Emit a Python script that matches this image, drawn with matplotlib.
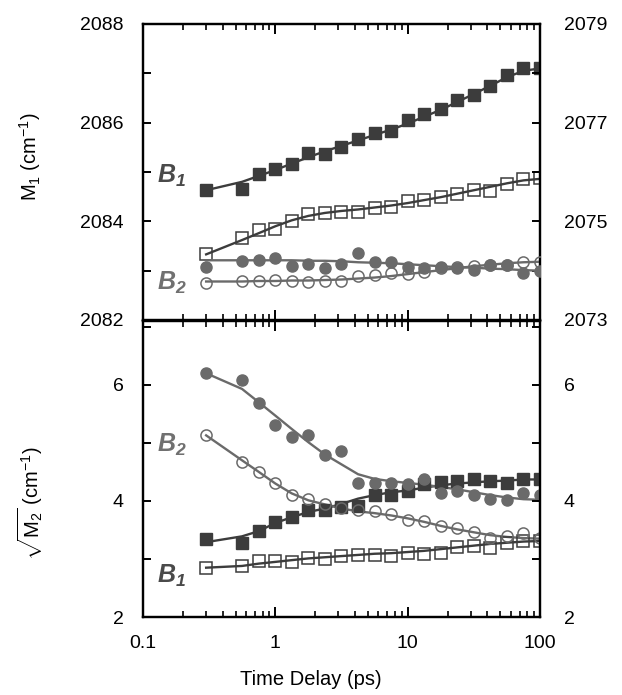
import numpy as np
import matplotlib
matplotlib.use('Agg')
import matplotlib.pyplot as plt
from matplotlib import rcParams
from matplotlib.ticker import LogLocator, NullFormatter, FixedLocator

rcParams['font.family'] = 'sans-serif'
rcParams['font.sans-serif'] = ['Liberation Sans', 'DejaVu Sans']
rcParams['font.size'] = 13
rcParams['mathtext.fontset'] = 'custom'
rcParams['mathtext.rm'] = 'Liberation Sans'
rcParams['mathtext.it'] = 'Liberation Sans:italic'
rcParams['mathtext.bf'] = 'Liberation Sans:bold:italic'

# time delays (ps)
t_ps = [0.3, 0.56, 0.75, 1.0, 1.33, 1.78, 2.37, 3.16, 4.22, 5.62,
        7.5, 10, 13.3, 17.8, 23.7, 31.6, 42.2, 56.2, 75, 100]

# ---- top panel: first moment M1 (cm-1)
# squares -> left axis (2082-2088)
m1_fsq = [2084.64, 2084.65, 2084.96, 2085.06, 2085.17, 2085.38, 2085.37, 2085.50, 2085.66, 2085.78,
          2085.84, 2086.05, 2086.17, 2086.27, 2086.46, 2086.56, 2086.74, 2086.97, 2087.10, 2087.10]
m1_fsq_fit = [2084.63, 2084.80, 2084.92, 2085.04, 2085.17, 2085.30, 2085.42, 2085.53, 2085.64, 2085.75,
              2085.86, 2085.98, 2086.12, 2086.26, 2086.42, 2086.58, 2086.75, 2086.92, 2087.05, 2087.10]
m1_osq = [2083.34, 2083.66, 2083.82, 2083.85, 2084.01, 2084.14, 2084.16, 2084.18, 2084.18, 2084.26,
          2084.30, 2084.42, 2084.43, 2084.50, 2084.55, 2084.64, 2084.62, 2084.75, 2084.86, 2084.87]
m1_osq_fit = [2083.33, 2083.62, 2083.76, 2083.90, 2084.02, 2084.11, 2084.17, 2084.21, 2084.24, 2084.28,
              2084.32, 2084.37, 2084.43, 2084.49, 2084.56, 2084.63, 2084.70, 2084.77, 2084.83, 2084.86]
# circles -> right axis (2073-2079)
m1_fci = [2074.08, 2074.20, 2074.22, 2074.26, 2074.10, 2074.13, 2074.06, 2074.13, 2074.36, 2074.17,
          2074.18, 2074.07, 2074.06, 2074.08, 2074.05, 2074.01, 2074.11, 2074.11, 2073.96, 2074.00]
m1_fci_fit = [2074.21, 2074.21, 2074.21, 2074.21, 2074.21, 2074.20, 2074.20, 2074.19, 2074.17, 2074.16,
              2074.15, 2074.13, 2074.11, 2074.09, 2074.07, 2074.06, 2074.04, 2074.03, 2074.01, 2074.00]
m1_oci = [2073.74, 2073.80, 2073.80, 2073.81, 2073.78, 2073.76, 2073.80, 2073.80, 2073.89, 2073.91,
          2073.95, 2073.93, 2073.98, 2074.05, 2074.07, 2074.09, 2074.11, 2074.11, 2074.17, 2074.18]
m1_oci_fit = [2073.78, 2073.78, 2073.79, 2073.79, 2073.80, 2073.80, 2073.81, 2073.82, 2073.84, 2073.86,
              2073.89, 2073.93, 2073.97, 2074.01, 2074.05, 2074.09, 2074.12, 2074.15, 2074.17, 2074.18]

# ---- bottom panel: sqrt(M2) (cm-1)
m2_fsq = [3.34, 3.27, 3.49, 3.64, 3.72, 3.84, 3.84, 3.90, 3.91, 4.10,
          4.11, 4.17, 4.30, 4.32, 4.34, 4.37, 4.34, 4.31, 4.38, 4.37]
m2_fsq_fit = [3.29, 3.39, 3.48, 3.62, 3.72, 3.81, 3.87, 3.95, 4.04, 4.10,
              4.15, 4.18, 4.23, 4.27, 4.30, 4.32, 4.34, 4.35, 4.37, 4.37]
m2_osq = [2.84, 2.88, 2.96, 2.96, 2.94, 3.02, 3.00, 3.05, 3.07, 3.07,
          3.05, 3.11, 3.09, 3.11, 3.20, 3.23, 3.19, 3.28, 3.31, 3.31]
m2_osq_fit = [2.85, 2.88, 2.92, 2.95, 2.98, 3.01, 3.03, 3.05, 3.07, 3.09,
              3.10, 3.12, 3.14, 3.17, 3.20, 3.23, 3.26, 3.28, 3.30, 3.31]
m2_fci = [6.20, 6.09, 5.69, 5.30, 5.10, 5.13, 4.80, 4.86, 4.31, 4.31,
          4.31, 4.30, 4.37, 4.13, 4.17, 4.10, 4.03, 4.01, 4.13, 4.11]
m2_fci_fit = [6.20, 5.93, 5.70, 5.47, 5.24, 5.01, 4.80, 4.63, 4.46, 4.38,
              4.34, 4.31, 4.28, 4.24, 4.20, 4.15, 4.10, 4.06, 4.03, 4.02]
m2_oci = [5.13, 4.67, 4.50, 4.31, 4.10, 4.03, 3.95, 3.87, 3.84, 3.83,
          3.77, 3.68, 3.65, 3.56, 3.54, 3.47, 3.37, 3.39, 3.45, 3.37]
m2_oci_fit = [5.13, 4.70, 4.50, 4.30, 4.13, 4.01, 3.94, 3.87, 3.82, 3.79,
              3.75, 3.70, 3.64, 3.57, 3.51, 3.46, 3.41, 3.38, 3.36, 3.35]

c_sq = '#3c3c3c'
c_ci = '#6a6a6a'
ms = 8

fig = plt.figure(figsize=(6.22, 6.95), dpi=100)
ax1 = fig.add_axes([0.2299, 0.5396, 0.6383, 0.4259])
ax2 = fig.add_axes([0.2299, 0.1122, 0.6383, 0.4259])
ax1r = ax1.twinx()
ax2r = ax2.twinx()

def style(ax, right=False):
    ax.set_xscale('log')
    ax.set_xlim(0.1, 100)
    for s in ax.spines.values():
        s.set_linewidth(1.6)
    ax.xaxis.set_major_locator(LogLocator(base=10))
    ax.xaxis.set_minor_locator(LogLocator(base=10, subs=np.arange(2, 10)))
    ax.xaxis.set_minor_formatter(NullFormatter())
    ax.tick_params(axis='x', which='major', direction='in', length=7, width=1.4,
                   top=True, bottom=True, pad=13, labelsize=14)
    ax.tick_params(axis='x', which='minor', direction='in', length=4.5, width=1.2,
                   top=True, bottom=True)
    ax.tick_params(axis='y', which='major', direction='in', length=6, width=1.4,
                   labelsize=14, pad=17 if right else 14)

# ---- top panel
for ax in (ax1, ax1r):
    style(ax, right=(ax is ax1r))
ax1.plot(t_ps, m1_fsq_fit, color=c_sq, lw=1.7, zorder=2)
ax1.plot(t_ps, m1_osq_fit, color=c_sq, lw=1.7, zorder=2)
ax1.plot(t_ps, m1_fsq, 's', color=c_sq, ms=ms, mec=c_sq, zorder=3)
ax1.plot(t_ps, m1_osq, 's', mfc='none', mec=c_sq, ms=ms, mew=1.1, zorder=3)
ax1r.plot(t_ps, m1_fci_fit, color=c_ci, lw=1.7, zorder=2)
ax1r.plot(t_ps, m1_oci_fit, color=c_ci, lw=1.7, zorder=2)
ax1r.plot(t_ps, m1_fci, 'o', color=c_ci, ms=ms, mec=c_ci, zorder=3)
ax1r.plot(t_ps, m1_oci, 'o', mfc='none', mec=c_ci, ms=ms, mew=1.1, zorder=3)

ax1.set_ylim(2082, 2088)
ax1.yaxis.set_major_locator(FixedLocator(np.arange(2082, 2089)))
ax1.set_yticklabels(['2082', '', '2084', '', '2086', '', '2088'])
ax1r.set_ylim(2073, 2079)
ax1r.yaxis.set_major_locator(FixedLocator(np.arange(2073, 2080)))
ax1r.set_yticklabels(['2073', '', '2075', '', '2077', '', '2079'])
ax1.tick_params(axis='x', labelbottom=False)
ax1r.tick_params(axis='x', labelbottom=False)

# ---- bottom panel
for ax in (ax2, ax2r):
    style(ax, right=(ax is ax2r))
ax2.plot(t_ps, m2_fsq_fit, color=c_sq, lw=1.7, zorder=2)
ax2.plot(t_ps, m2_osq_fit, color=c_sq, lw=1.7, zorder=2)
ax2.plot(t_ps, m2_fci_fit, color=c_ci, lw=1.7, zorder=2)
ax2.plot(t_ps, m2_oci_fit, color=c_ci, lw=1.7, zorder=2)
ax2.plot(t_ps, m2_fsq, 's', color=c_sq, ms=ms, mec=c_sq, zorder=3)
ax2.plot(t_ps, m2_osq, 's', mfc='none', mec=c_sq, ms=ms, mew=1.1, zorder=3)
ax2.plot(t_ps, m2_fci, 'o', color=c_ci, ms=ms, mec=c_ci, zorder=3)
ax2.plot(t_ps, m2_oci, 'o', mfc='none', mec=c_ci, ms=ms, mew=1.1, zorder=3)

for ax in (ax2, ax2r):
    ax.set_ylim(2, 7.1)
    ax.yaxis.set_major_locator(FixedLocator([2, 3, 4, 5, 6, 7]))
    ax.set_yticklabels(['2', '', '4', '', '6', ''])
ax2.set_xticks([0.1, 1, 10, 100])
ax2.set_xticklabels(['0.1', '1', '10', '100'])

# labels
fig.text(0.048, 0.774, r'M$_1$ (cm$^{-1}$)', rotation=90, ha='center', va='center', fontsize=14.5)
fig.text(0.048, 0.276, r'$\sqrt{\mathrm{M}_2}$ (cm$^{-1}$)', rotation=90,
         ha='center', va='center', fontsize=14.5)
fig.text(0.5, 0.022, 'Time Delay (ps)', ha='center', va='center', fontsize=14.5)

# series tags
ax1.text(0.035, 0.463, r'$\mathbf{B}_{\mathbf{1}}$', transform=ax1.transAxes, fontsize=18,
         color='#4a4a4a', ha='left', va='baseline')
ax1.text(0.035, 0.101, r'$\mathbf{B}_{\mathbf{2}}$', transform=ax1.transAxes, fontsize=18,
         color='#707070', ha='left', va='baseline')
ax2.text(0.035, 0.557, r'$\mathbf{B}_{\mathbf{2}}$', transform=ax2.transAxes, fontsize=18,
         color='#707070', ha='left', va='baseline')
ax2.text(0.035, 0.115, r'$\mathbf{B}_{\mathbf{1}}$', transform=ax2.transAxes, fontsize=18,
         color='#4a4a4a', ha='left', va='baseline')

plt.savefig('out.png', dpi=100)
